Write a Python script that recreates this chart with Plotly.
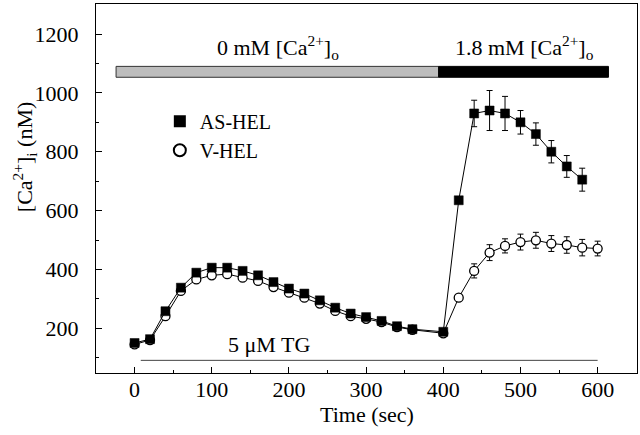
import plotly.graph_objects as go

time_as = [0, 20, 40, 60, 80, 100, 120, 140, 160, 180, 200, 220, 240, 260, 280, 300, 320, 340, 360, 400,
           420, 440, 460, 480, 500, 520, 540, 560, 580]
as_hel = [150, 163, 258, 338, 389, 406, 406, 395, 380, 357, 335, 318, 295, 270, 250, 238, 225, 207, 197, 188,
          635, 930, 940, 930, 900, 860, 800, 750, 705]
as_err = [6, 6, 8, 8, 8, 8, 8, 8, 8, 8, 8, 8, 8, 8, 8, 8, 8, 8, 8, 8,
          8, 45, 68, 58, 40, 38, 38, 37, 39]

time_v = [0, 20, 40, 60, 80, 100, 120, 140, 160, 180, 200, 220, 240, 260, 280, 300, 320, 340, 360, 400,
          420, 440, 460, 480, 500, 520, 540, 560, 580, 600]
v_hel = [145, 160, 241, 327, 366, 380, 384, 372, 361, 340, 321, 304, 284, 259, 241, 232, 221, 204, 195, 183,
         304, 395, 457, 480, 493, 499, 488, 483, 474, 471]
v_err = [6, 6, 8, 8, 8, 8, 8, 8, 8, 8, 8, 8, 8, 8, 8, 8, 8, 8, 8, 8,
         8, 24, 27, 24, 27, 27, 27, 28, 28, 25]

x_ticks = [0, 100, 200, 300, 400, 500, 600]
y_ticks = [200, 400, 600, 800, 1000, 1200]

FONT = "Liberation Serif"

fig = go.Figure()

fig.add_trace(go.Scatter(
    x=time_v, y=v_hel, mode="lines+markers", showlegend=False,
    line=dict(color="black", width=1),
    marker=dict(symbol="circle", size=9, color="white", line=dict(color="black", width=1.3)),
    error_y=dict(type="data", array=v_err, color="black", thickness=1, width=3),
))
fig.add_trace(go.Scatter(
    x=time_as, y=as_hel, mode="lines+markers", showlegend=False,
    line=dict(color="black", width=1),
    marker=dict(symbol="square", size=9, color="black", line=dict(color="black", width=0.5)),
    error_y=dict(type="data", array=as_err, color="black", thickness=1, width=3),
))

# legend entries
fig.add_trace(go.Scatter(x=[None], y=[None], mode="markers", name="AS-HEL",
                         marker=dict(symbol="square", size=8, color="black")))
fig.add_trace(go.Scatter(x=[None], y=[None], mode="markers", name="V-HEL",
                         marker=dict(symbol="circle", size=7, color="white",
                                     line=dict(color="black", width=1))))

# top condition bars
fig.add_shape(type="rect", x0=-24, x1=394, y0=1053, y1=1090, xref="x", yref="y",
              fillcolor="#bdbdbd", line=dict(color="#333333", width=1))
fig.add_shape(type="rect", x0=394, x1=614, y0=1053, y1=1090, xref="x", yref="y",
              fillcolor="black", line=dict(color="black", width=1))
# TG line
fig.add_shape(type="line", x0=8, x1=600, y0=91, y1=91, xref="x", yref="y",
              line=dict(color="#444444", width=1))

fig.add_annotation(x=186, y=1155, xref="x", yref="y", showarrow=False,
                   text="0 mM [Ca<sup>2+</sup>]<sub>o</sub>",
                   font=dict(family=FONT, size=22, color="black"))
fig.add_annotation(x=505, y=1155, xref="x", yref="y", showarrow=False,
                   text="1.8 mM [Ca<sup>2+</sup>]<sub>o</sub>",
                   font=dict(family=FONT, size=22, color="black"))
fig.add_annotation(x=174, y=146, xref="x", yref="y", showarrow=False,
                   text="5 μM TG",
                   font=dict(family=FONT, size=22, color="black"))

# axis titles
fig.add_annotation(x=-0.133, y=0.585, xref="paper", yref="paper", showarrow=False,
                   text="[Ca<sup>2+</sup>]<sub>i</sub> (nM)", textangle=-90,
                   xanchor="center", yanchor="middle",
                   font=dict(family=FONT, size=22, color="black"))
fig.add_annotation(x=0.5, y=-0.113, xref="paper", yref="paper", showarrow=False,
                   text="Time (sec)", xanchor="center", yanchor="middle",
                   font=dict(family=FONT, size=22, color="black"))

fig.update_xaxes(range=[-50, 651], tickvals=x_ticks, ticks="inside", ticklen=6, tickwidth=1,
                 tickcolor="black", showline=True, linecolor="black", linewidth=1, mirror=True,
                 showgrid=False, zeroline=False, ticklabelstandoff=-3,
                 minor=dict(ticks="inside", ticklen=3, dtick=50, tick0=0, tickcolor="black"),
                 tickfont=dict(family=FONT, size=22, color="black"))
fig.update_yaxes(range=[48, 1302], tickvals=y_ticks, ticks="inside", ticklen=6, tickwidth=1,
                 tickcolor="black", showline=True, linecolor="black", linewidth=1, mirror=True,
                 showgrid=False, zeroline=False, ticklabelstandoff=12,
                 minor=dict(ticks="inside", ticklen=3, dtick=200, tick0=100, tickcolor="black"),
                 tickfont=dict(family=FONT, size=22, color="black"))

fig.update_layout(
    width=640, height=435,
    margin=dict(l=96, r=3, t=4, b=62),
    plot_bgcolor="white", paper_bgcolor="white",
    showlegend=True,
    legend=dict(x=0.118, y=0.735, xanchor="left", yanchor="top",
                bgcolor="rgba(0,0,0,0)", font=dict(family=FONT, size=20, color="black"),
                itemsizing="constant", tracegroupgap=0),
)

fig.write_html("out.html", config={"displayModeBar": False},
               post_script="document.body.style.margin='0px';")
